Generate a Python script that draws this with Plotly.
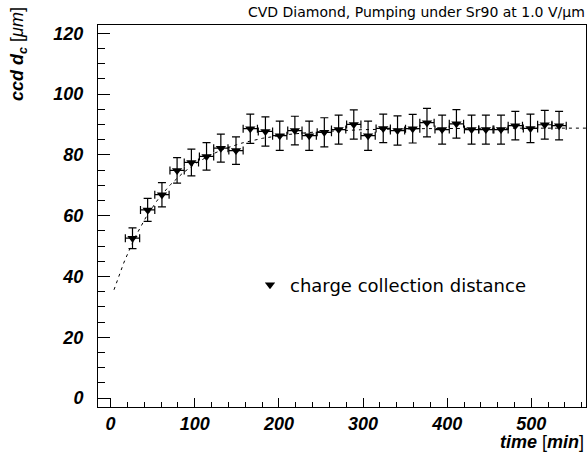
import numpy as np
import plotly.graph_objects as go

# ---- data ----
time_min = [26, 44, 61, 79, 96, 114, 131, 149, 166, 184, 201, 219, 236, 254, 271,
            289, 306, 324, 341, 359, 376, 394, 411, 429, 446, 464, 481, 499, 516, 533]
ccd_um = [52.6, 61.9, 66.9, 74.9, 77.5, 79.5, 82.2, 81.4, 88.6, 87.7, 86.3, 88.0, 86.3, 87.4, 88.3,
          90.0, 86.3, 88.7, 88.0, 88.6, 90.6, 88.3, 90.2, 88.3, 88.3, 88.3, 89.6, 88.7, 89.9, 89.6]
ccd_err = [3.4, 3.8, 4.0, 4.2, 4.4, 4.5, 4.6, 4.5, 4.8, 4.8, 4.8, 4.7, 4.8, 4.8, 4.8,
           4.8, 4.8, 4.7, 4.8, 4.7, 4.7, 4.8, 4.7, 4.8, 4.8, 4.8, 4.7, 4.7, 4.7, 4.7]
time_err = [8.5] * len(time_min)

# fit: d(t) = plateau - amp * exp(-t / tau)
fit_plateau = 88.8
fit_amp = 56.6
fit_tau = 63.9
fit_t_start = 4
fit_t_end = 565

x_ticks = [0, 100, 200, 300, 400, 500]
y_ticks = [0, 20, 40, 60, 80, 100, 120]

W, H = 587, 458
L, R, T, B = 98, 586, 25, 407  # plot frame in px

def px(xp):
    return (xp - L) / (R - L)

def py(yp):
    return (B - yp) / (B - T)

t_fit = np.linspace(fit_t_start, fit_t_end, 300)
d_fit = fit_plateau - fit_amp * np.exp(-t_fit / fit_tau)

fig = go.Figure()
fig.add_trace(go.Scatter(
    x=t_fit, y=d_fit, mode="lines",
    line=dict(color="black", width=1, dash="3px,4px"),
    showlegend=False, hoverinfo="skip"))
fig.add_trace(go.Scatter(
    x=time_min, y=ccd_um, mode="markers", name="charge collection distance",
    marker=dict(symbol="triangle-down", size=9, color="black"),
    error_y=dict(type="data", array=ccd_err, color="black", thickness=1.2, width=4),
    error_x=dict(type="data", array=time_err, color="black", thickness=1.2, width=4),
    showlegend=True))

tickfont = dict(family="Liberation Sans", size=18, color="black", weight="bold", style="italic")

fig.update_layout(
    width=W, height=H,
    margin=dict(l=L, r=W - R, t=T, b=H - B, pad=0),
    paper_bgcolor="white", plot_bgcolor="white",
    showlegend=True,
    legend=dict(x=px(250), y=py(285), xanchor="left", yanchor="middle",
                bgcolor="rgba(0,0,0,0)", borderwidth=0,
                font=dict(family="DejaVu Sans", size=18, color="black")),
    xaxis=dict(range=[-15, 565], tickvals=x_ticks, ticks="inside", ticklen=9,
               tickwidth=1, tickcolor="black", showline=True, linecolor="black",
               linewidth=1, mirror=True, showgrid=False, zeroline=False,
               tickfont=tickfont,
               minor=dict(ticks="inside", ticklen=5, dtick=20, tickcolor="black", showgrid=False)),
    yaxis=dict(range=[-2.9, 122.7], tickvals=y_ticks, ticks="inside", ticklen=12,
               tickwidth=1, tickcolor="black", showline=True, linecolor="black",
               linewidth=1, mirror=True, showgrid=False, zeroline=False,
               tickfont=tickfont, ticklabelstandoff=10,
               minor=dict(ticks="inside", ticklen=7, dtick=5, tickcolor="black", showgrid=False)),
)

fig.add_annotation(x=1.0, y=1.0, xref="paper", yref="paper", xanchor="right", yanchor="bottom",
                   xshift=1, yshift=3, showarrow=False,
                   text="CVD Diamond, Pumping under Sr90 at 1.0 V/\u03bcm",
                   font=dict(family="DejaVu Sans", size=14, color="black"))
fig.add_annotation(x=1.0, y=py(442), xref="paper", yref="paper", xanchor="right", yanchor="middle",
                   showarrow=False,
                   text="<b><i>time</i></b> [<b><i>min</i></b>]",
                   font=dict(family="Liberation Sans", size=18, color="black"))
fig.add_annotation(x=px(18), y=py(5), xref="paper", yref="paper", xanchor="center", yanchor="top",
                   showarrow=False, textangle=-90,
                   text="<b><i>ccd d<sub>c</sub></i></b> [<i>\u03bcm</i>]",
                   font=dict(family="Liberation Sans", size=18, color="black"))

fig.write_html("out.html")
